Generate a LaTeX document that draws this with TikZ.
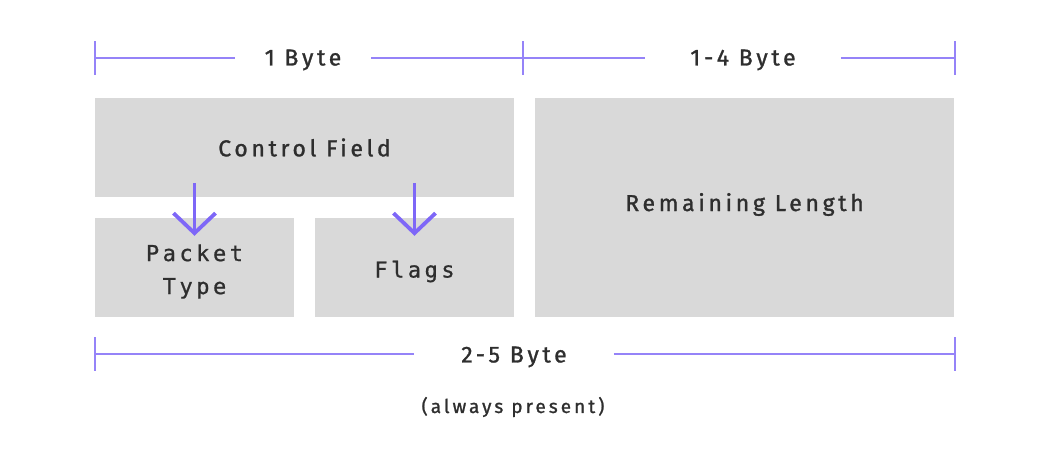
\documentclass[tikz,border=0pt]{standalone}
\usepackage{fontspec}
\setmainfont{Fira Sans}[LetterSpace=16, FakeBold=1.2]
\newfontfamily\monofont{DejaVu Sans Mono}[LetterSpace=16, FakeBold=0.8]
\usetikzlibrary{arrows.meta,positioning,calc}
\definecolor{boxgray}{HTML}{D9D9D9}
\definecolor{dimline}{HTML}{9583F8}
\definecolor{arrowpurple}{HTML}{7E67F7}
\definecolor{txt}{HTML}{2E2E2E}

\begin{document}
\begin{tikzpicture}[x=1pt, y=1pt,
  field/.style={fill=boxgray, draw=none, inner sep=0pt},
  sanslbl/.style={font=\fontsize{23}{27}\selectfont, text=txt, align=center},
  monolbl/.style={font=\monofont\fontsize{22}{33}\selectfont, text=txt, align=center},
  dimlbl/.style={sanslbl, inner ysep=2pt},
  dim/.style={draw=dimline, line width=1.2pt},
  arr/.style={draw=arrowpurple, line width=3.8pt, -{Straight Barb[length=20pt, width=42pt, line width=3.8pt]}}
]
\useasboundingbox (0,0) rectangle (1050,454);
% Felder: oben Control Field, darunter Packet Type und Flags, rechts Remaining Length
\node[field, minimum width=419pt, minimum height=99pt] (cf) at (304.5,306.5) {};
\node[field, minimum width=199pt, minimum height=99pt] (pt) at (194.5,186.5) {};
\node[field, minimum width=199pt, minimum height=99pt] (fl) at (414.5,186.5) {};
\node[field, minimum width=419pt, minimum height=219pt] (rl) at (744.5,246.5) {};
\node[sanslbl] (cftxt) at (cf.center) {Control Field};
\node[monolbl] (pttxt) at ([yshift=-4pt]pt.center) {Packet\\Type};
\node[monolbl] (fltxt) at ([yshift=-4pt]fl.center) {Flags};
\node[sanslbl] (rltxt) at ([yshift=3pt]rl.center) {Remaining Length};
% Bemaßung oben
\coordinate (t1) at (95,396);
\coordinate (t2) at (523,396);
\coordinate (t3) at (955,396);
\node[dimlbl, inner xsep=30pt] (b1) at (303,394) {1 Byte};
\node[dimlbl, inner xsep=45pt] (b2) at (743,394) {1-4 Byte};
\foreach \t in {t1,t2,t3}
  \draw[dim] ([yshift=-17pt]\t) -- ([yshift=17pt]\t);
\draw[dim] (t1) -- (b1.west |- t1);
\draw[dim] (b1.east |- t2) -- (t2) -- (b2.west |- t2);
\draw[dim] (b2.east |- t3) -- (t3);
% Bemaßung unten
\coordinate (u1) at (95,100);
\coordinate (u2) at (955,100);
\node[dimlbl, inner xsep=47pt] (b3) at (514,97) {2-5 Byte};
\node[sanslbl, font=\fontsize{19}{22}\selectfont] (note) at (513,47) {(always present)};
\foreach \u in {u1,u2}
  \draw[dim] ([yshift=-17pt]\u) -- ([yshift=17pt]\u);
\draw[dim] (u1) -- (b3.west |- u1);
\draw[dim] (b3.east |- u2) -- (u2);
% Pfeile aus dem Control Field
\draw[arr] ([yshift=14pt]cf.south -| pt.north) -- ([yshift=-18pt]pt.north);
\draw[arr] ([yshift=14pt]cf.south -| fl.north) -- ([yshift=-18pt]fl.north);
\end{tikzpicture}
\end{document}
